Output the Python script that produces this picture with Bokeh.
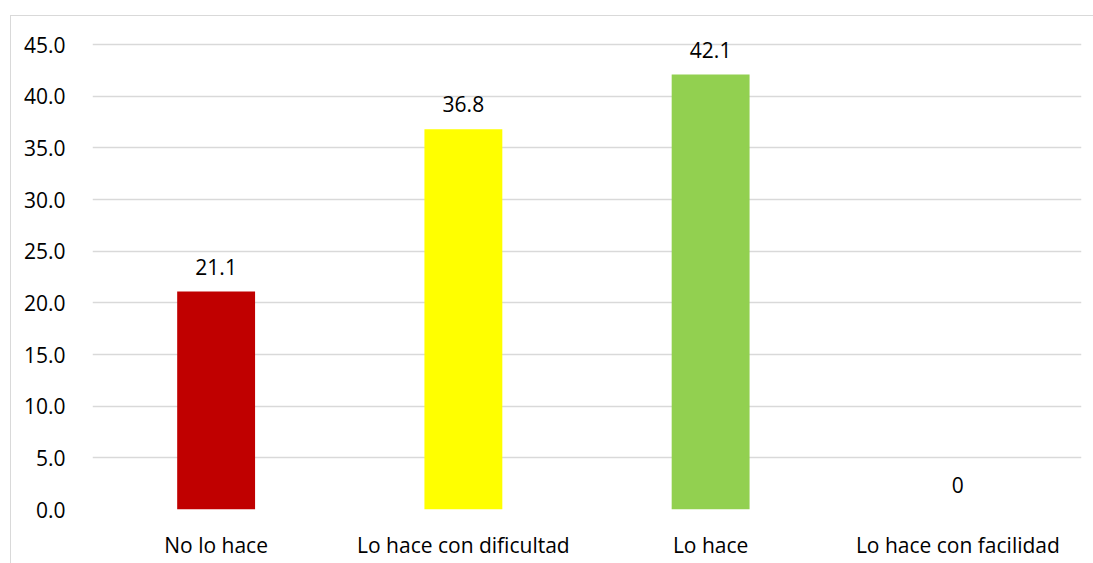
from bokeh.plotting import figure
from bokeh.models import ColumnDataSource, FactorRange, Range1d, SingleIntervalTicker, NumeralTickFormatter
from bokeh.core.properties import value
from bokeh.embed import file_html
from bokeh.resources import INLINE

categories = ["No lo hace", "Lo hace con dificultad", "Lo hace", "Lo hace con facilidad"]
values = [21.1, 36.8, 42.1, 0]
value_labels = ["21.1", "36.8", "42.1", "0"]
colors = ["#C00000", "#FFFF00", "#92D050", "#5B9BD5"]

src = ColumnDataSource(dict(cat=categories, val=values, lab=value_labels, col=colors))

FONT = "Open Sans"
FS = "21px"

p = figure(x_range=FactorRange(*categories, range_padding=0), y_range=Range1d(0, 48.4),
           width=1093, height=563, output_backend="svg", toolbar_location=None,
           min_border_left=92, min_border_right=12, min_border_top=9, min_border_bottom=54)
p.border_fill_color = None
p.background_fill_color = None
p.styles = {"background": "white",
            "box-shadow": "inset 10px 15px 0 0 white, inset 11px 16px 0 0 #d9d9d9"}
p.outline_line_color = None

p.vbar(x="cat", top="val", width=0.315, fill_color="col", line_color=None, source=src)
p.text(x="cat", y="val", text="lab", source=src, text_align="center", text_baseline="bottom",
       y_offset=-17, text_font=value(FONT), text_font_size=FS, text_color="#000000")

p.yaxis.ticker = SingleIntervalTicker(interval=5)
p.yaxis.formatter = NumeralTickFormatter(format="0.0")
for ax in (p.xaxis[0], p.yaxis[0]):
    ax.axis_line_color = None
    ax.major_tick_line_color = None
    ax.minor_tick_line_color = None
    ax.major_label_text_font = FONT
    ax.major_label_text_font_size = FS
    ax.major_label_text_color = "#000000"
p.yaxis.major_label_standoff = 21
p.xaxis.major_label_standoff = 15

p.xgrid.grid_line_color = None
p.ygrid.grid_line_color = "#d9d9d9"
p.ygrid.grid_line_width = 1.5

open("out.html", "w").write(file_html(p, INLINE))
